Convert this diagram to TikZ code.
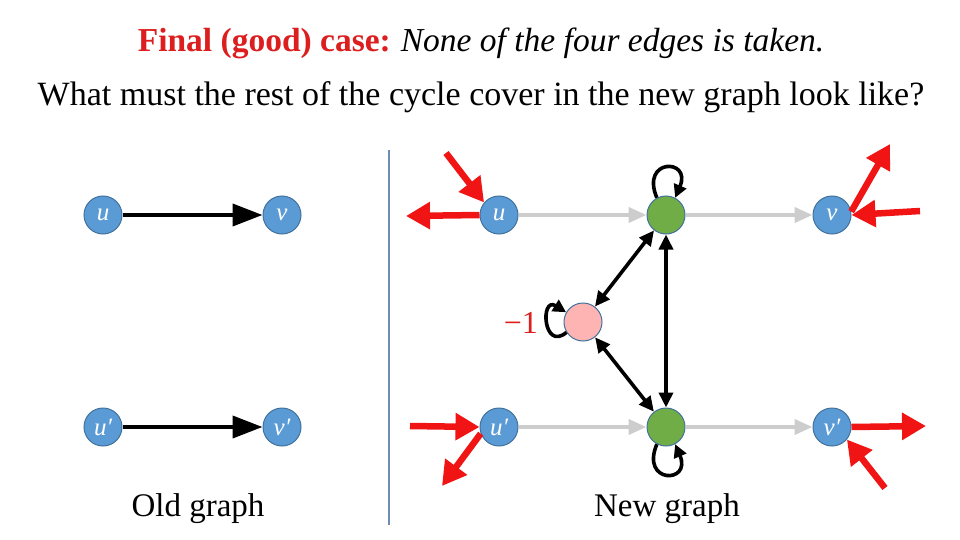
\documentclass[tikz,border=0pt]{standalone}
\usepackage{fontspec}
\setmainfont{Liberation Serif}
\usetikzlibrary{arrows.meta}
\definecolor{nodeblue}{RGB}{91,155,213}
\definecolor{nodeedge}{RGB}{65,113,156}
\definecolor{ngreen}{RGB}{112,173,71}
\definecolor{npink}{RGB}{255,180,180}
\definecolor{redarr}{RGB}{240,20,20}
\definecolor{titlered}{RGB}{220,30,30}
\definecolor{greyarr}{RGB}{205,205,205}
\definecolor{divider}{RGB}{110,140,175}
\tikzset{
  vbase/.style={circle, minimum size=38pt, inner sep=0pt, draw=nodeedge, line width=1pt},
  bluev/.style={vbase, fill=nodeblue, text=white, font=\fontsize{25}{25}\selectfont\itshape},
  greenv/.style={vbase, fill=ngreen},
  pinkv/.style={vbase, fill=npink},
  blackarr/.style={line width=4pt, -{Triangle[length=30pt,width=22pt]}},
  greyarrow/.style={draw=greyarr, line width=4pt, -{Triangle[length=18pt,width=15pt]}},
  redarrow/.style={draw=redarr, line width=6.5pt, -{Triangle[length=24pt,width=26pt]}},
  dblarr/.style={line width=3.6pt, {Triangle[length=15pt,width=14pt]}-{Triangle[length=15pt,width=14pt]}},
  looparr/.style={line width=3.6pt, -{Triangle[length=13pt,width=13pt]}},
  caption/.style={font=\fontsize{33}{33}\selectfont}
}
\begin{document}
\begin{tikzpicture}[x=1pt,y=-1pt]
\useasboundingbox (0,0) rectangle (960,540);
% titles
\node[anchor=base, font=\fontsize{33.5}{33.5}\selectfont] (title) at (481,52)
  {\textcolor{titlered}{\textbf{Final (good) case:}}\hspace{10pt}\textit{None of the four edges is taken.}};
\node[anchor=base, font=\fontsize{34}{34}\selectfont] (question) at (481,106)
  {What must the rest of the cycle cover in the new graph look like?};
% divider
\draw[divider, line width=1.5pt] (389,150) coordinate (dtop) -- (389,525) coordinate (dbot);
% old graph
\node[bluev] (ou) at (103,215) {u};
\node[bluev] (ov) at (282,215) {v};
\node[bluev] (oup) at (103,427) {u′};
\node[bluev] (ovp) at (282,427) {v′};
\draw[blackarr] (ou) -- (ov);
\draw[blackarr] (oup) -- (ovp);
\node[caption, anchor=base] (oldcap) at (198,516) {Old graph};
% new graph
\node[bluev] (nu) at (499,215) {u};
\node[greenv] (gt) at (666,215) {};
\node[bluev] (nv) at (832,215) {v};
\node[bluev] (nup) at (499,427) {u′};
\node[greenv] (gb) at (666,427) {};
\node[bluev] (nvp) at (832,427) {v′};
\node[pinkv] (pk) at (583,322) {};
\node[caption, anchor=base] (newcap) at (667,516) {New graph};
\node[text=titlered, font=\fontsize{32}{32}\selectfont, anchor=base east, inner sep=0pt] (minus) at (538,333) {−1};
% grey arrows
\draw[greyarrow] (nu) -- (gt);
\draw[greyarrow] (gt) -- (nv);
\draw[greyarrow] (nup) -- (gb);
\draw[greyarrow] (gb) -- (nvp);
% black double arrows
\draw[dblarr] (gt) -- (pk);
\draw[dblarr] (pk) -- (gb);
\draw[dblarr] (gt) -- (gb);
% self loops
\draw[looparr] (gt.118) .. controls (640,158) and (692,158) .. (gt.62);
\draw[looparr] (gb.242) .. controls (640,484) and (692,484) .. (gb.298);
\draw[looparr] (pk.212) .. controls (543,352) and (540,296) .. (pk.150);
% red arrows
\coordinate (r1) at (446,153);
\coordinate (r2) at (406,216);
\draw[redarrow] (r1) -- (nu.140);
\draw[redarrow] (nu.west) -- (r2);
\coordinate (r3) at (890,144);
\coordinate (r4) at (920,211);
\draw[redarrow] (nv.10) -- (r3);
\draw[redarrow] (r4) -- (nv.east);
\coordinate (r5) at (410,426);
\coordinate (r6) at (442,486);
\draw[redarrow] (r5) -- (nup.west);
\draw[redarrow] (nup.200) -- (r6);
\coordinate (r7) at (926,426);
\coordinate (r8) at (885,488);
\draw[redarrow] (nvp.east) -- (r7);
\draw[redarrow] (r8) -- (nvp.320);
\end{tikzpicture}
\end{document}
